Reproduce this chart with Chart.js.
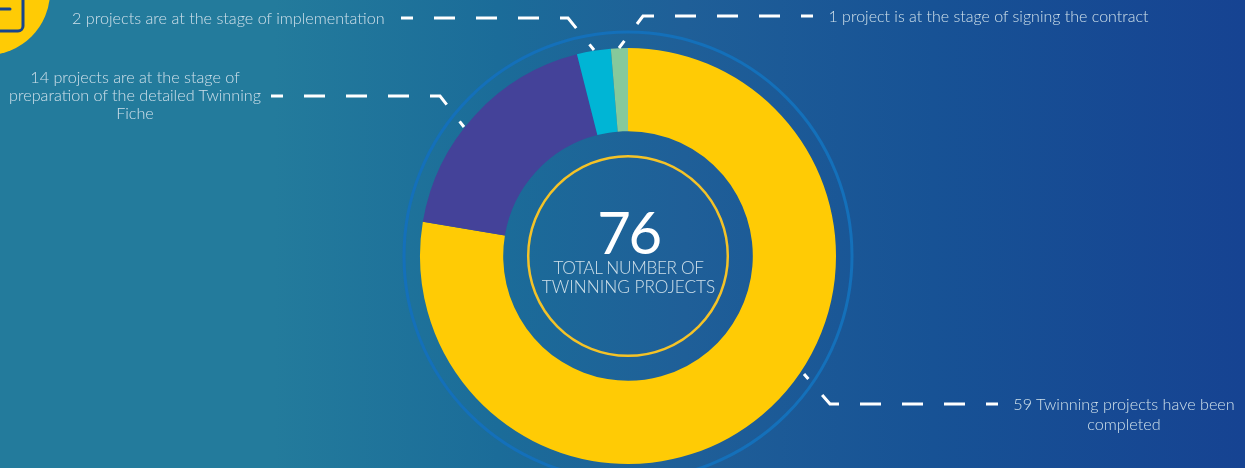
<!DOCTYPE html>
<html>
<head>
<meta charset="utf-8">
<script src="https://cdn.jsdelivr.net/npm/chart.js@4"></script>
<style>
html, body { margin: 0; padding: 0; }
body {
    width: 1245px; height: 468px; overflow: hidden; position: relative;
    background: linear-gradient(90deg, #237b9c 0%, #237b9c 22%, #1b6c99 40%, #1f5f98 55%, #175295 75%, #164392 100%);
    font-family: Lato, "Open Sans", sans-serif; font-weight: 300;
}
#wrap { position: absolute; left: 0; top: 0; width: 1245px; height: 468px; }
.note { position: absolute; color: #cfe0ea; font-size: 16.2px; line-height: 18px; text-align: center; white-space: nowrap; }
.total { position: absolute; left: 528px; width: 201px; text-align: center; color: #fff; }
</style>
</head>
<body>
<div id="wrap"><canvas id="donut" width="1245" height="468"></canvas></div>
<div class="note" style="left:72px;top:9px;width:312px">2 projects are at the stage of implementation</div>
<div class="note" style="left:828px;top:7px;width:321px;font-size:16px">1 project is at the stage of signing the contract</div>
<div class="note" style="left:8px;top:68px;width:254px">14 projects are at the stage of<br>preparation of the detailed Twinning<br>Fiche</div>
<div class="note" style="left:1011px;top:394px;width:226px;line-height:20px">59 Twinning projects have been<br>completed</div>
<div class="total" style="top:197px;font-size:58px;line-height:70px;font-weight:400;letter-spacing:-2.5px">76</div>
<div class="total" style="top:258px;font-size:17.2px;line-height:19px;color:#cfe0ea"><span style="letter-spacing:-0.35px">TOTAL NUMBER OF</span><br>TWINNING PROJECTS</div>
<script>
const categories = ['Completed', 'Preparation of the detailed Twinning Fiche', 'Implementation', 'Signing the contract'];
const projectCounts = [59, 14, 2, 1];
const sliceColors = ['#ffcb05', '#444299', '#00b5d5', '#86c99b'];

// leader lines from the labels to the slices
const leaders = [
    [[271, 96], [440, 96], [464, 127]],
    [[401, 18], [568, 18], [594, 50]],
    [[813, 16], [643, 16], [619, 48]],
    [[998, 404], [830, 404], [804, 374]]
];

const decorations = {
    id: 'decorations',
    beforeDatasetsDraw(chart) {
        const ctx = chart.ctx;
        const arc = chart.getDatasetMeta(0).data[0];
        ctx.save();
        // corner badge
        ctx.fillStyle = '#ffcb05';
        ctx.beginPath();
        ctx.arc(-13, -8, 63, 0, Math.PI * 2);
        ctx.fill();
        ctx.strokeStyle = '#17458f';
        ctx.lineWidth = 3;
        ctx.lineCap = 'round';
        ctx.beginPath();
        ctx.roundRect(-20, -20, 43, 51, 5);
        ctx.stroke();
        ctx.beginPath();
        ctx.moveTo(-4, 9);
        ctx.lineTo(10, 9);
        ctx.stroke();
        ctx.lineCap = 'butt';
        // outer ring
        ctx.strokeStyle = '#1470ba';
        ctx.lineWidth = 3;
        ctx.beginPath();
        ctx.arc(arc.x, arc.y, arc.outerRadius + 16, 0, Math.PI * 2);
        ctx.stroke();
        ctx.restore();
    },
    afterDatasetsDraw(chart) {
        const ctx = chart.ctx;
        const arc = chart.getDatasetMeta(0).data[0];
        ctx.save();
        // inner ring
        ctx.strokeStyle = '#f5c327';
        ctx.lineWidth = 2.5;
        ctx.beginPath();
        ctx.arc(arc.x, arc.y, arc.innerRadius - 25, 0, Math.PI * 2);
        ctx.stroke();
        ctx.strokeStyle = '#ffffff';
        ctx.lineWidth = 3;
        ctx.setLineDash([21, 21]);
        ctx.lineDashOffset = 9;
        leaders.forEach(points => {
            ctx.beginPath();
            points.forEach((p, i) => i ? ctx.lineTo(p[0], p[1]) : ctx.moveTo(p[0], p[1]));
            ctx.stroke();
        });
        ctx.restore();
    }
};

new Chart(document.getElementById('donut'), {
    type: 'doughnut',
    data: {
        labels: categories,
        datasets: [{
            data: projectCounts,
            backgroundColor: sliceColors,
            borderWidth: 0
        }]
    },
    options: {
        responsive: false,
        animation: false,
        cutout: '60%',
        layout: { padding: { left: 420, right: 409, top: 48, bottom: 4 } },
        plugins: { legend: { display: false }, tooltip: { enabled: false } }
    },
    plugins: [decorations]
});
</script>
</body>
</html>
